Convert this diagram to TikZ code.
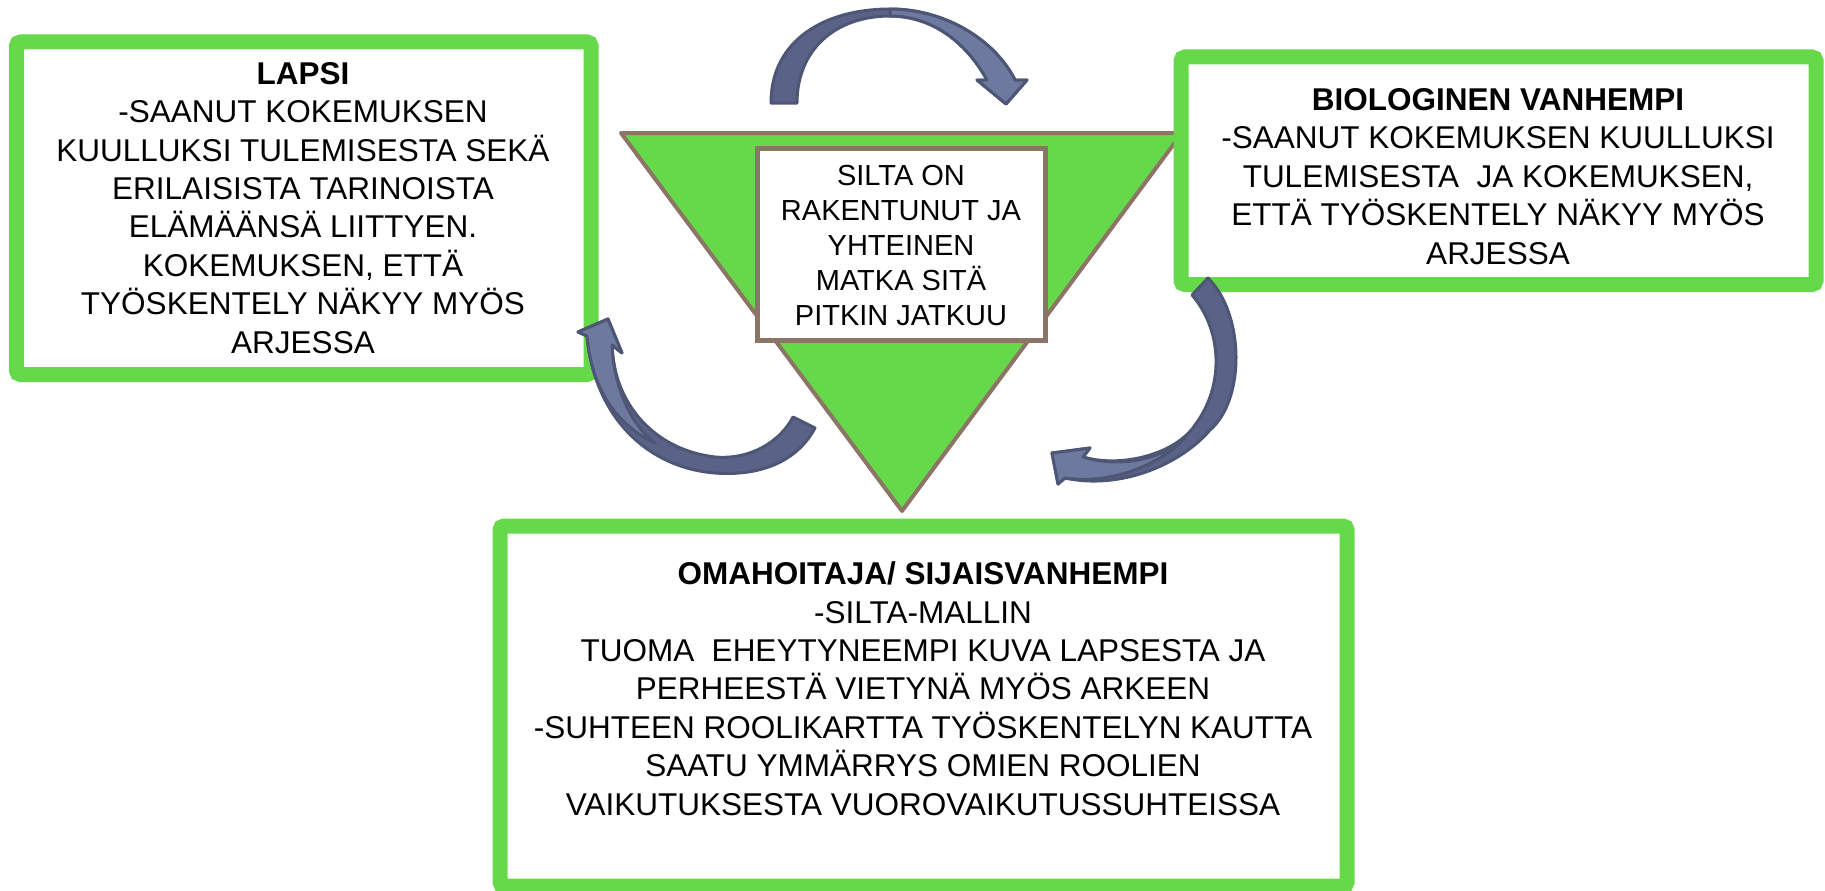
\documentclass[tikz,border=0pt]{standalone}
\usepackage{fontspec}
\setmainfont{Liberation Sans}
\definecolor{boxgreen}{RGB}{102,217,74}
\definecolor{bridgeline}{RGB}{140,116,102}
\definecolor{curlfill}{RGB}{90,99,135}
\definecolor{curllight}{RGB}{110,121,160}
\definecolor{curlline}{RGB}{78,86,118}
\begin{document}
\begin{tikzpicture}[x=1pt,y=-1pt,
  greenbox/.style={draw=boxgreen,line width=15pt,rounded corners=4pt,fill=white},
  txt/.style={align=center,font=\fontsize{31.5}{38.4}\selectfont},
  curl/.style={fill=curlfill,draw=curlline,line width=3pt,line join=round},
  curlLight/.style={curl,fill=curllight}]
\useasboundingbox (0,0) rectangle (1825,891);
% silta
\draw[fill=boxgreen,draw=bridgeline,line width=4pt,line join=round]
  (621,133)--(1182,133)--(902,511)--cycle;
\node[draw=bridgeline,fill=white,line width=5pt,minimum width=288pt,minimum height=192pt]
  (siltaBox) at (901,244) {};
\node[align=center,font=\fontsize{29}{35}\selectfont,anchor=base] (silta) at (901,325)
  {SILTA ON\\RAKENTUNUT JA\\YHTEINEN\\MATKA SITÄ\\PITKIN JATKUU};
% laatikot
\node[greenbox,minimum width=574.5pt,minimum height=332.5pt] (lapsiBox) at (303.75,208.25) {};
\node[greenbox,minimum width=635pt,minimum height=227.5pt] (bioBox) at (1498.5,170.75) {};
\node[greenbox,minimum width=847pt,minimum height=360pt] (omaBox) at (923.5,706) {};
\node[txt,anchor=base] (lapsi) at (303,353)
  {\textbf{LAPSI}\\-SAANUT KOKEMUKSEN\\KUULLUKSI TULEMISESTA SEKÄ\\ERILAISISTA TARINOISTA\\
   ELÄMÄÄNSÄ LIITTYEN.\\KOKEMUKSEN, ETTÄ\\TYÖSKENTELY NÄKYY MYÖS\\ARJESSA};
\node[txt,anchor=base] (bio) at (1498,264)
  {\textbf{BIOLOGINEN VANHEMPI}\\-SAANUT KOKEMUKSEN KUULLUKSI\\TULEMISESTA\ \ JA KOKEMUKSEN,\\
   ETTÄ TYÖSKENTELY NÄKYY MYÖS\\ARJESSA};
\node[txt,anchor=base] (oma) at (923,815)
  {\textbf{OMAHOITAJA/ SIJAISVANHEMPI}\\-SILTA-MALLIN\\TUOMA\ \ EHEYTYNEEMPI KUVA LAPSESTA JA\\
   PERHEESTÄ VIETYNÄ MYÖS ARKEEN\\-SUHTEEN ROOLIKARTTA TYÖSKENTELYN KAUTTA\\
   SAATU YMMÄRRYS OMIEN ROOLIEN\\VAIKUTUKSESTA VUOROVAIKUTUSSUHTEISSA};
% nuolet
\draw[curl] (771,103)..controls (771,40) and (825,9)..(890,9)
  ..controls (945,9) and (995,40)..(1015,80)--(1027,80)--(1006,104)--(977,80)--(987,80)
  ..controls (965,40) and (930,16)..(890,16)..controls (835,16) and (797,50)..(797,103)--cycle;
\draw[curlLight] (890,9)..controls (945,9) and (995,40)..(1015,80)--(1027,80)--(1006,104)
  --(977,80)--(987,80)..controls (965,40) and (930,16)..(890,16)--cycle;
\draw[curl] (793,417)--(815,428)..controls (795,465) and (755,476)..(715,473)
  ..controls (650,468) and (595,420)..(587,336)--(578,332)--(608,319)--(622,353)--(612,345)
  ..controls (614,405) and (655,450)..(715,457)..controls (750,460) and (780,442)..(793,417)--cycle;
\draw[curlLight] (587,336)--(578,332)--(608,319)--(622,353)--(612,345)
  ..controls (614,390) and (632,425)..(655,443)..controls (622,428) and (592,395)..(587,336)--cycle;
\draw[curl] (1192,295)--(1208,278)..controls (1245,315) and (1245,400)..(1210,430)
  ..controls (1180,465) and (1120,490)..(1065,478)--(1058,484)--(1052,453)--(1090,448)--(1083,457)
  ..controls (1120,468) and (1175,455)..(1195,425)..controls (1225,385) and (1222,330)..(1192,295)--cycle;
\draw[curlLight] (1083,457)..controls (1120,468) and (1160,460)..(1185,438)
  ..controls (1160,465) and (1110,485)..(1065,478)--(1058,484)--(1052,453)--(1090,448)--cycle;
\end{tikzpicture}
\end{document}
